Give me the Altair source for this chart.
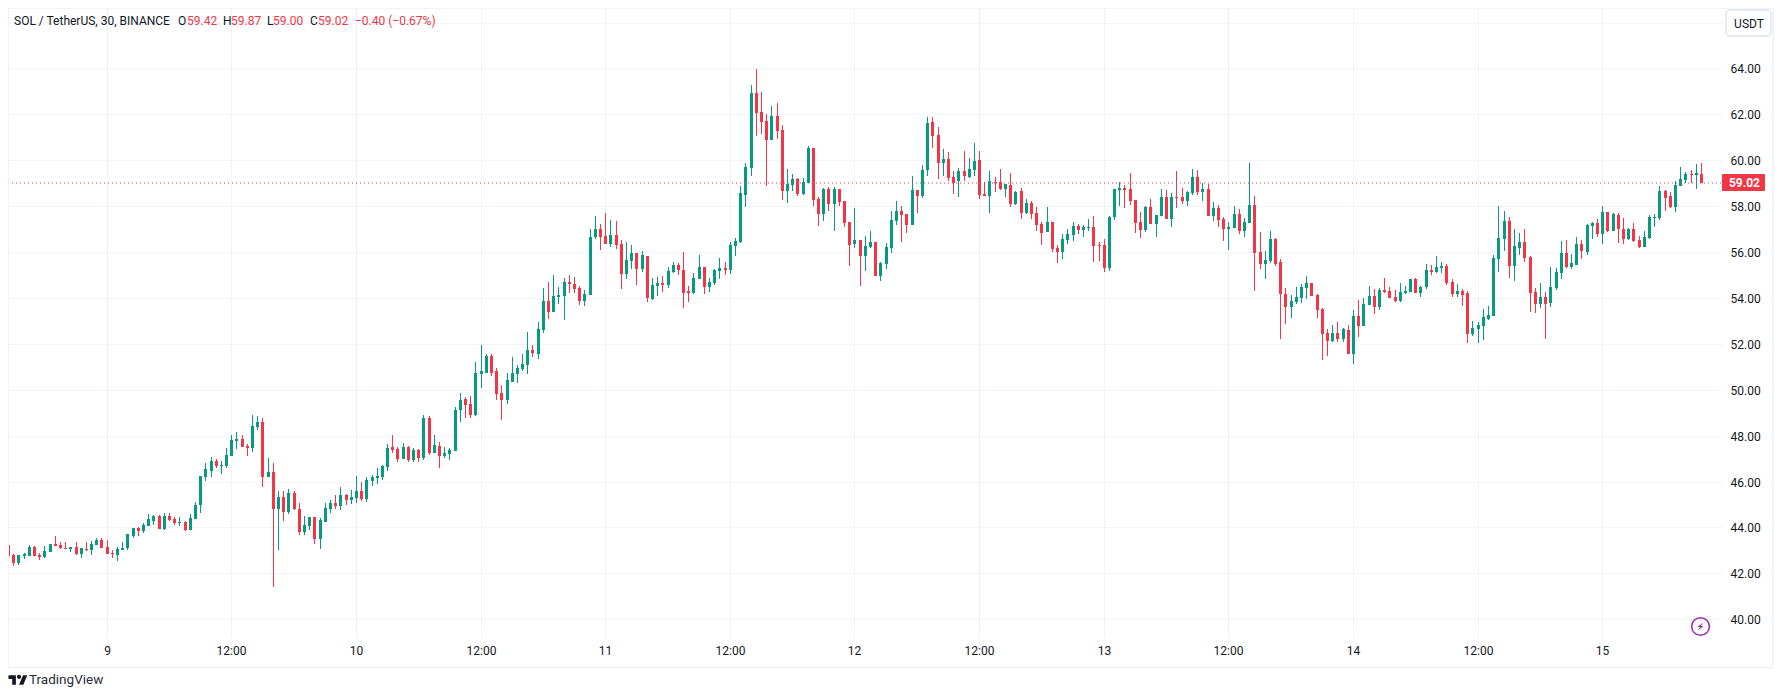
import altair as alt
import pandas as pd

opens = [
    43.23,42.80,42.45,42.77,42.75,43.15,42.80,42.71,42.93,43.28,
    43.23,43.10,43.06,43.15,42.84,43.06,43.01,43.23,43.45,43.15,
    42.88,42.80,43.01,43.10,43.62,43.97,43.84,44.06,44.28,44.49,
    43.93,44.49,44.36,44.19,44.23,43.88,44.36,44.97,46.19,46.45,
    46.88,46.67,46.67,47.10,47.75,47.84,47.54,47.45,48.36,48.58,
    46.19,46.41,44.80,45.32,44.67,45.49,44.80,43.80,44.06,44.45,
    43.49,44.23,44.80,45.06,44.93,45.41,45.19,45.28,45.58,45.23,
    46.01,46.15,46.19,46.62,47.49,47.41,46.97,47.49,46.93,47.36,
    47.01,48.75,47.23,47.54,47.10,47.19,47.32,49.10,49.58,49.36,
    48.88,50.71,50.75,51.49,50.80,49.84,49.54,50.36,50.71,50.89,
    51.10,51.75,51.58,52.62,53.88,53.41,54.06,54.10,54.71,54.62,
    54.45,53.88,54.15,56.67,57.01,56.71,56.36,56.75,56.36,55.06,
    55.62,55.97,55.28,55.84,53.97,54.54,54.67,54.58,55.14,55.45,
    55.23,54.32,54.23,54.84,55.36,54.49,54.67,55.19,55.32,55.23,
    56.27,56.45,58.49,59.67,62.93,62.10,61.71,60.88,61.93,61.32,
    58.67,58.93,59.19,58.54,59.01,60.54,58.32,57.67,58.75,58.10,
    58.75,58.23,57.32,56.36,56.54,55.84,56.23,56.45,54.97,55.49,
    56.19,57.36,57.80,57.67,57.19,58.71,58.45,59.58,61.67,61.10,
    59.88,60.06,59.27,59.10,59.54,59.27,59.58,60.01,58.54,58.45,
    59.06,59.06,58.75,58.93,58.10,58.67,57.71,58.14,57.71,57.23,
    56.88,57.32,56.19,56.01,56.54,56.75,57.14,56.97,57.06,57.10,
    56.32,56.32,55.32,57.54,58.71,58.80,58.75,58.27,57.32,56.97,
    57.97,57.23,57.58,58.41,57.45,58.41,58.41,58.23,58.58,59.27,
    58.62,58.75,57.58,57.93,57.45,57.01,57.06,57.67,56.93,57.27,
    58.06,56.01,55.49,55.62,56.58,55.58,54.19,53.62,53.84,54.01,
    54.45,54.67,54.14,53.54,52.49,52.14,52.49,52.23,52.62,51.58,
    53.23,52.80,53.71,54.10,53.62,54.36,54.32,54.06,53.88,54.23,
    54.28,54.84,54.23,54.49,55.23,55.14,55.32,55.41,54.71,54.19,
    54.32,54.23,52.41,52.67,52.80,53.10,53.23,55.71,56.58,57.36,
    55.41,56.19,56.45,55.80,54.28,53.75,54.06,53.80,54.45,55.10,
    55.97,55.36,55.45,56.36,56.01,57.14,57.28,56.80,57.75,56.93,
    57.62,57.01,56.58,57.01,56.54,56.23,56.62,57.49,57.49,58.67,
    58.45,57.97,58.88,59.14,59.41,59.36,59.42,
]
highs = [
    43.29,42.84,42.80,42.88,43.23,43.19,42.88,43.19,43.28,43.62,
    43.36,43.36,43.15,43.36,43.10,43.36,43.41,43.54,43.54,43.45,
    43.01,43.15,43.36,43.71,43.97,44.01,44.19,44.58,44.54,44.54,
    44.62,44.62,44.45,44.45,44.28,44.58,45.10,46.23,46.80,47.06,
    46.97,46.88,47.45,48.01,48.14,48.01,47.62,48.88,48.84,48.75,
    47.01,46.80,45.58,45.58,45.67,45.58,45.06,44.49,44.45,44.45,
    44.41,45.06,45.19,45.41,45.75,45.45,45.62,46.23,45.97,46.19,
    46.28,46.58,46.71,47.62,48.01,47.49,47.67,47.54,47.45,47.41,
    48.88,48.84,48.01,47.71,47.49,47.45,49.26,49.84,49.67,49.71,
    51.23,51.97,51.58,51.54,50.93,50.19,50.75,51.41,51.06,51.54,
    52.54,51.97,52.97,54.45,54.71,55.01,54.49,54.88,55.01,54.93,
    54.54,54.36,57.01,57.58,57.23,57.71,57.41,57.36,56.54,56.45,
    56.32,55.97,56.06,55.84,54.88,54.93,54.97,55.36,55.58,55.54,
    56.01,54.54,55.10,55.88,55.36,54.88,55.28,55.75,55.58,56.45,
    56.62,58.88,59.88,63.27,63.97,62.97,62.01,62.36,62.49,61.54,
    59.62,59.40,59.23,59.23,60.62,60.54,58.41,58.80,58.84,58.84,
    58.75,58.23,57.32,57.93,56.54,56.71,56.93,56.45,55.58,56.41,
    57.80,58.23,58.01,57.67,59.32,58.71,59.80,61.88,61.88,61.45,
    60.49,60.36,59.54,59.67,60.41,60.10,60.75,60.41,59.06,59.54,
    59.27,59.62,58.97,59.45,58.67,58.80,58.32,58.23,57.97,57.32,
    57.97,57.32,56.32,56.80,57.01,57.32,57.23,57.19,57.45,57.58,
    56.45,56.58,57.58,58.75,59.06,58.93,59.45,58.27,57.75,58.01,
    58.32,57.62,58.75,58.71,58.58,59.54,58.80,58.67,59.62,59.58,
    59.01,58.97,58.19,58.06,57.54,57.32,58.01,57.88,57.49,59.88,
    58.45,56.88,56.06,56.93,56.62,55.71,54.45,54.14,54.49,54.62,
    54.97,54.67,54.19,53.58,52.67,52.84,52.97,52.71,52.84,53.49,
    53.93,54.01,54.54,54.41,54.45,54.88,54.49,54.36,54.67,54.54,
    54.84,54.88,54.54,55.49,55.45,55.84,55.58,55.49,54.84,54.62,
    54.41,54.32,53.01,52.97,53.54,53.67,55.88,58.01,57.80,57.54,
    57.01,56.84,57.01,55.84,54.45,54.67,54.28,55.36,55.32,56.49,
    56.54,55.93,56.67,56.54,57.23,57.32,57.45,58.01,57.75,57.71,
    57.71,57.49,57.06,57.28,56.71,56.93,57.62,57.67,58.88,58.71,
    58.62,59.10,59.71,59.49,59.58,59.84,59.87,
]
lows = [
    42.75,42.32,42.36,42.62,42.75,42.75,42.58,42.67,42.93,43.19,
    43.06,43.06,42.93,42.80,42.67,42.97,42.80,43.23,43.10,42.84,
    42.67,42.54,43.01,43.01,43.54,43.62,43.75,44.06,44.10,43.93,
    43.88,44.28,44.10,44.06,43.84,43.88,44.36,44.62,46.01,46.19,
    46.58,46.32,46.58,47.10,47.41,47.49,47.10,47.28,48.23,45.75,
    46.19,41.41,43.01,44.28,44.58,44.75,43.67,43.67,43.88,43.28,
    43.06,44.23,44.62,44.80,44.75,44.97,45.01,45.06,45.14,45.10,
    45.80,45.88,46.06,46.45,47.23,46.84,46.97,46.84,46.84,46.84,
    46.93,47.14,47.23,46.58,47.01,46.93,47.32,48.58,48.75,48.75,
    48.84,50.10,50.75,50.62,49.54,48.67,49.36,50.36,50.28,50.80,
    50.67,51.45,51.36,52.49,53.10,53.41,53.75,53.06,54.23,54.23,
    53.71,53.67,54.15,56.58,56.10,56.36,56.23,56.15,54.41,54.84,
    55.28,54.58,55.14,53.84,53.93,54.10,54.27,54.45,55.10,55.01,
    53.58,53.84,54.19,54.84,54.19,54.27,54.58,54.84,55.01,55.06,
    55.84,56.41,57.97,59.32,61.06,61.14,58.88,60.88,60.93,58.27,
    58.14,58.67,58.45,58.49,59.01,58.01,57.14,57.36,57.80,56.93,
    58.01,57.10,55.41,56.19,54.54,55.18,56.19,54.97,54.75,55.27,
    55.97,57.19,56.45,56.84,57.19,57.71,58.36,59.32,60.54,59.19,
    59.32,59.10,58.54,58.41,59.10,59.23,59.32,58.32,58.45,57.71,
    58.62,58.71,58.41,57.97,58.06,57.45,57.67,57.45,56.93,56.32,
    56.88,56.01,55.54,55.71,56.36,56.49,56.80,56.67,56.93,55.58,
    55.62,55.14,55.18,57.41,58.01,57.93,58.06,56.84,56.62,56.88,
    57.23,56.67,57.58,57.45,57.10,57.93,58.10,58.01,58.49,58.49,
    58.23,57.58,57.36,57.10,56.49,56.10,57.06,56.80,56.67,57.27,
    54.32,55.28,54.84,55.54,55.41,52.23,52.88,53.14,53.75,53.80,
    53.97,54.10,53.14,51.32,51.49,52.10,52.10,52.10,51.58,51.14,
    52.32,52.80,53.71,53.32,53.49,54.23,54.01,53.84,53.84,54.19,
    54.28,54.23,54.06,54.41,55.01,55.10,55.10,54.58,54.06,54.06,
    53.67,52.06,52.36,52.06,52.19,53.06,53.23,55.14,56.06,54.88,
    54.75,55.88,55.58,53.41,53.36,53.58,52.23,53.62,54.36,54.84,
    55.32,55.28,55.45,55.71,55.88,56.58,56.67,56.36,56.88,56.93,
    56.41,56.36,56.54,56.45,56.19,56.23,56.58,57.10,57.41,57.80,
    57.93,57.75,58.88,59.02,59.02,58.75,59.00,
]
closes = [
    42.75,42.45,42.80,42.83,43.15,42.75,42.71,42.97,43.28,43.19,
    43.10,43.06,43.15,42.84,43.10,43.01,43.28,43.45,43.10,42.84,
    42.84,43.06,43.10,43.71,43.97,43.84,44.10,44.36,44.49,43.93,
    44.49,44.32,44.19,44.23,43.88,44.41,44.97,46.23,46.54,46.88,
    46.67,46.71,47.14,47.80,47.84,47.49,47.45,48.41,48.58,46.19,
    46.41,44.80,45.32,44.67,45.49,44.80,43.80,44.10,44.45,43.49,
    44.32,44.84,45.06,44.93,45.41,45.19,45.32,45.58,45.23,46.06,
    46.19,46.23,46.67,47.45,47.36,46.97,47.49,46.93,47.36,47.01,
    48.75,47.23,47.58,47.10,47.23,47.36,49.13,49.54,49.32,48.88,
    50.75,50.80,51.49,50.75,49.80,49.54,50.41,50.75,50.93,51.14,
    51.75,51.62,52.67,53.88,53.41,54.10,54.15,54.71,54.62,54.41,
    53.88,54.19,56.67,57.01,56.67,56.36,56.75,56.32,55.06,55.67,
    55.97,55.28,55.88,54.02,54.58,54.67,54.58,55.19,55.45,55.23,
    54.23,54.23,54.88,55.36,54.49,54.71,55.23,55.32,55.23,56.32,
    56.49,58.58,59.71,62.93,62.06,61.67,60.88,61.93,61.27,58.67,
    58.97,59.19,58.54,59.06,60.54,58.27,57.67,58.75,58.10,58.75,
    58.19,57.27,56.32,56.54,55.84,56.27,56.45,54.97,55.54,56.23,
    57.41,57.80,57.62,57.19,58.71,58.45,59.58,61.62,61.06,59.88,
    60.06,59.23,59.01,59.54,59.32,59.62,59.97,58.49,58.45,59.10,
    59.01,58.75,58.97,58.10,58.62,57.71,58.14,57.67,57.19,56.84,
    57.32,56.14,56.01,56.58,56.80,57.14,56.97,57.10,57.10,56.27,
    56.27,55.32,57.54,58.75,58.80,58.71,58.23,57.27,56.97,57.97,
    57.23,57.62,58.41,57.45,58.41,58.36,58.23,58.62,59.27,58.62,
    58.75,57.58,57.93,57.41,57.01,57.10,57.67,56.93,57.32,58.06,
    55.97,55.49,55.67,56.58,55.49,54.19,53.62,53.88,54.06,54.49,
    54.67,54.10,53.49,52.45,52.14,52.49,52.23,52.67,51.58,53.23,
    52.80,53.75,54.10,53.62,54.36,54.28,54.01,53.88,54.28,54.32,
    54.84,54.23,54.49,55.23,55.14,55.36,55.41,54.67,54.19,54.32,
    54.14,52.41,52.71,52.84,53.19,53.28,55.75,56.62,57.36,55.41,
    56.28,56.45,55.75,54.23,53.75,54.06,53.75,54.49,55.14,55.97,
    55.36,55.54,56.36,56.06,57.19,57.28,56.80,57.75,56.93,57.67,
    57.01,56.58,57.01,56.49,56.23,56.67,57.54,57.54,58.67,58.36,
    57.97,58.93,59.19,59.41,59.36,59.45,59.02,
]

x_ticks = [19, 43, 67, 91, 115, 139, 163, 187, 211, 235, 259, 283, 307]
x_labels = ["9", "12:00", "10", "12:00", "11", "12:00", "12", "12:00", "13", "12:00", "14", "12:00", "15"]
y_ticks = list(range(40, 68, 2))
last_price = 59.02

GREEN = "#089981"
RED = "#F23645"
INK = "#131722"
GRID = "#F0F3FA"
FONT = "Roboto"

df = pd.DataFrame({"i": range(len(opens)), "open": opens, "high": highs, "low": lows, "close": closes})
one = pd.DataFrame({"k": [0]})

W, H = 1714, 630
xs = alt.Scale(domain=[0, W / 5.193], nice=False, zero=False, round=True, padding=0)
ys = alt.Scale(domain=[39.185, 66.636], nice=False, zero=False, round=True, padding=0)
label_map = ",".join(f"'{t}':'{l}'" for t, l in zip(x_ticks, x_labels))
x_axis = alt.Axis(values=x_ticks, labelExpr="{" + label_map + "}[datum.value]", title=None, ticks=False, domain=False,
                  grid=True, gridColor=GRID, labelColor=INK, labelFontSize=12, labelFont=FONT, labelPadding=7,
                  labelFlush=False, labelOverlap=False)
y_axis = alt.Axis(values=y_ticks, labelExpr="datum.value == 66 ? '' : format(datum.value, '.2f')", orient="right",
                  title=None, ticks=False, domain=False, grid=True,
                  gridColor=GRID, labelColor=INK, labelFontSize=12, labelFont=FONT, labelPadding=8,
                  labelOverlap=False, labelFlush=False)
color = alt.condition("datum.close >= datum.open", alt.value(GREEN), alt.value(RED))

wicks = alt.Chart(df).mark_rule(strokeWidth=1, xOffset=0.5).encode(
    x=alt.X("i:Q", scale=xs, axis=x_axis),
    y=alt.Y("low:Q", scale=ys, axis=y_axis),
    y2="high:Q", color=color)
bodies = alt.Chart(df).mark_bar(size=3, xOffset=0.5).encode(
    x=alt.X("i:Q", scale=xs), y=alt.Y("open:Q", scale=ys), y2="close:Q", color=color)
last_line = alt.Chart(pd.DataFrame({"p": [last_price]})).mark_rule(color=RED, strokeWidth=1, strokeDash=[1, 3]).encode(
    y=alt.Y("p:Q", scale=ys), x=alt.value(0), x2=alt.value(W))


def txt(s, x, y, c=INK, size=12, weight="normal", align="left"):
    return alt.Chart(one).mark_text(align=align, baseline="middle", font=FONT, fontSize=size, fontWeight=weight, color=c).encode(
        x=alt.value(x), y=alt.value(y), text=alt.value(s))


def box(x, x2, y, y2, **kw):
    return alt.Chart(one).mark_rect(**kw).encode(x=alt.value(x), x2=alt.value(x2), y=alt.value(y), y2=alt.value(y2))


def rule(x, x2, y, y2):
    return alt.Chart(one).mark_rule(color=GRID, strokeWidth=2).encode(
        x=alt.value(x), x2=alt.value(x2), y=alt.value(y), y2=alt.value(y2))


borders = [rule(0, 1765, 0, 0), rule(0, 0, 0, 659), rule(1765, 1765, 0, 659), rule(0, 1765, 659.5, 659.5)]

hy = 13
header = [
    txt("SOL / TetherUS, 30, BINANCE", 6, hy),
    txt("O", 170, hy), txt("59.42", 179, hy, RED),
    txt("H", 215, hy), txt("59.87", 223, hy, RED),
    txt("L", 259, hy), txt("59.00", 265, hy, RED),
    txt("C", 302, hy), txt("59.02", 310, hy, RED),
    txt("\u22120.40 (\u22120.67%)", 347, hy, RED),
]

usdt = [box(1718, 1763, 2, 28, fill="white", stroke="#E0E3EB", strokeWidth=1.5, cornerRadius=4), txt("USDT", 1741, 16, align="center")]
price_tag = [box(1714, 1757, 166, 183, fill=RED, cornerRadius=1), txt("59.02", 1736.5, 175, "white", weight="bold", align="center")]

PURPLE = "#9C27B0"
icon = [
    alt.Chart(one).mark_point(shape="circle", size=314, stroke=PURPLE, strokeWidth=1.5, filled=False, opacity=1).encode(
        x=alt.value(1692.5), y=alt.value(618.5)),
    alt.Chart(one).mark_point(shape="M0.3 -0.45 L-0.35 0.05 H-0.02 L-0.3 0.45 L0.35 -0.05 H0.02 Z", size=324, fill=PURPLE,
                              filled=True, opacity=1, strokeWidth=0).encode(x=alt.value(1692.5), y=alt.value(618.5)),
]
tv_path = ("M-0.106 0.2385 L-0.2915 0.2385 L-0.2915 -0.053 L-0.477 -0.053 L-0.477 -0.2385 L-0.106 -0.2385 Z "
           "M0.265 0.2385 L0.053 0.2385 L0.252 -0.2385 L0.464 -0.2385 Z "
           "M-0.053 -0.159 a0.106 0.106 0 1 0 0.212 0 a0.106 0.106 0 1 0 -0.212 0 Z")
logo = [
    alt.Chart(one).mark_point(shape=tv_path, size=1600, fill=INK, filled=True, opacity=1, strokeWidth=0).encode(
        x=alt.value(10), y=alt.value(672)),
    txt("TradingView", 21, 671.5, "#2A2E39", size=13.5),
]

chart = alt.layer(wicks, bodies, last_line, *borders, *header, *usdt, *price_tag, *icon, *logo).properties(
    width=W, height=H, padding={"left": 0, "top": 0, "right": 52, "bottom": 49},
    autosize=alt.AutoSizeParams(type="none", contains="content"),
).configure_view(stroke=None)

chart.save("out.html", embed_options={"renderer": "svg", "actions": False})
